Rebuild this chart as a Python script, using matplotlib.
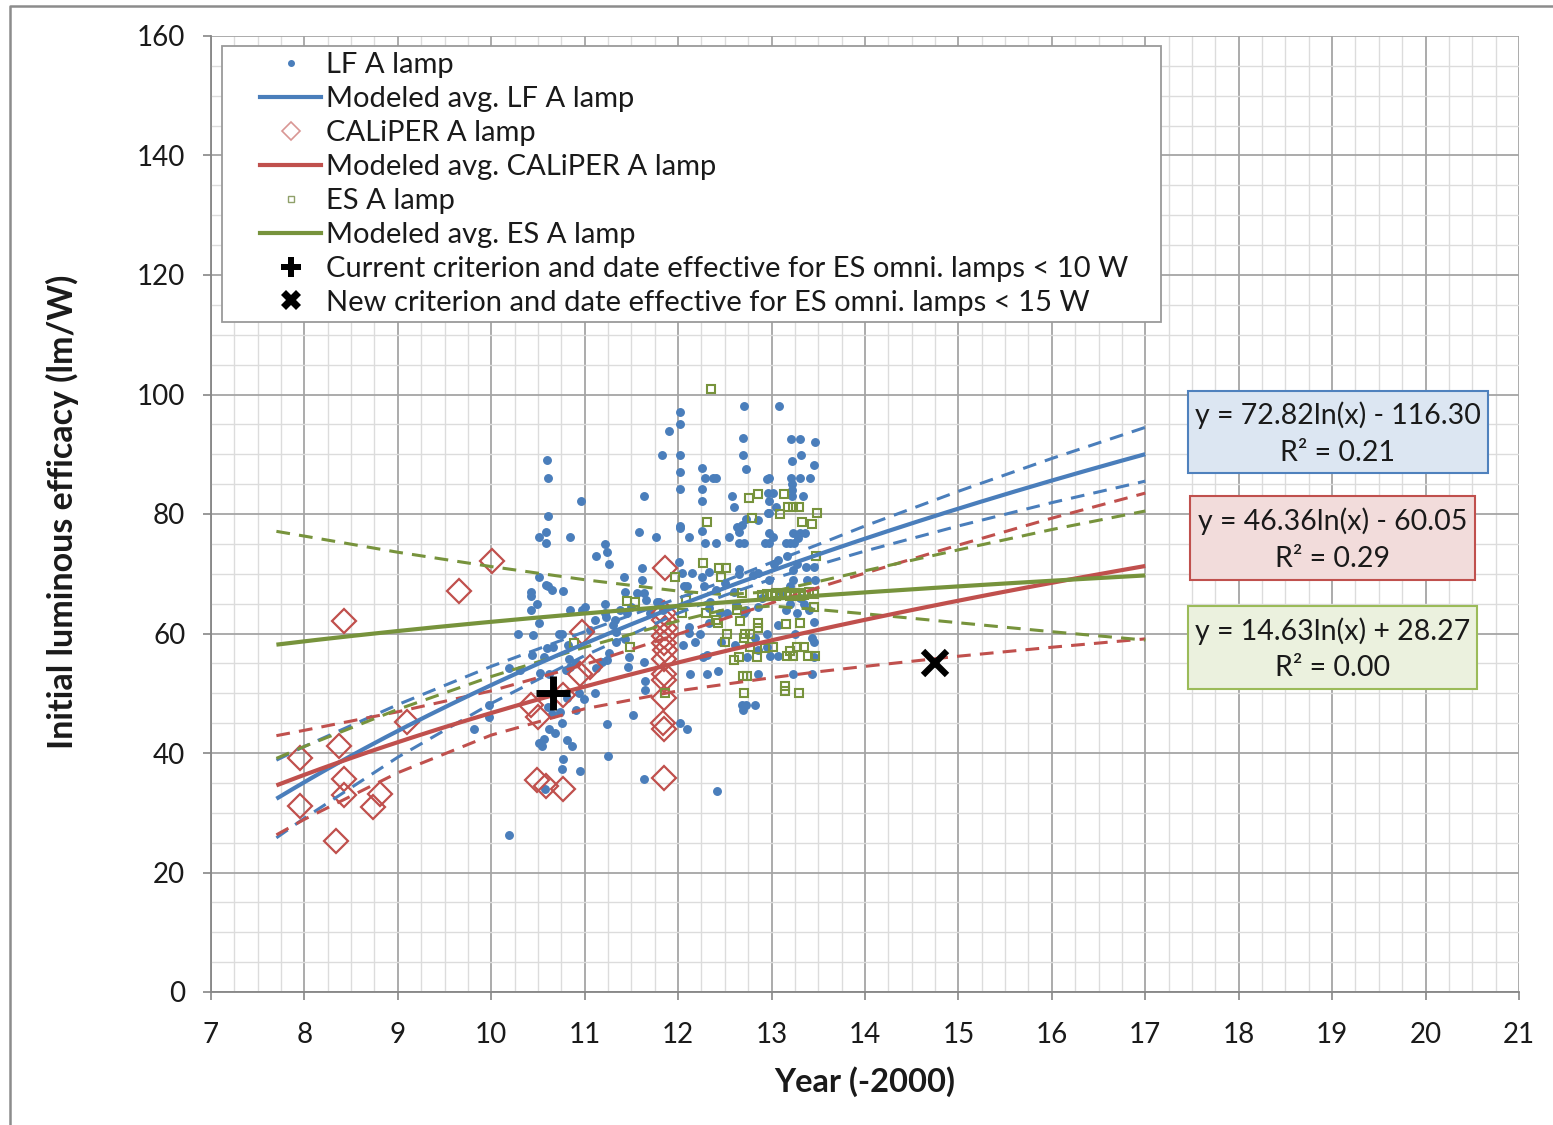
import matplotlib
matplotlib.use("Agg")
import matplotlib.pyplot as plt
import numpy as np
from matplotlib.lines import Line2D
from matplotlib.patches import Rectangle
from matplotlib.ticker import MultipleLocator
from matplotlib.legend_handler import HandlerLine2D

plt.rcParams['font.family'] = ['Lato', 'DejaVu Sans']

# ---------------- data ----------------
# LF A lamp (year - 2000, lm/W)
lf_x = [9.81, 9.98, 9.98, 10.19, 10.19, 10.29, 10.31, 10.43, 10.43, 10.43, 10.45, 10.44, 10.49,
        10.51, 10.51, 10.51, 10.51, 10.54, 10.56, 10.56, 10.52, 10.57, 10.59, 10.59, 10.60, 10.61,
        10.61, 10.59, 10.65, 10.61, 10.60, 10.66, 10.61, 10.65, 10.62, 10.68, 10.62, 10.72, 10.76,
        10.74, 10.76, 10.77, 10.76, 10.77, 10.80, 10.84, 10.81, 10.81, 10.82, 10.83, 10.84, 10.84,
        10.86, 10.91, 10.91, 10.94, 10.95, 10.96, 10.97, 10.99, 11.00, 11.06, 11.11, 11.11, 11.12,
        11.12, 11.18, 11.22, 11.22, 11.22, 11.24, 11.26, 11.24, 11.26, 11.24, 11.25, 11.23, 11.30,
        11.32, 11.33, 11.34, 11.38, 11.42, 11.43, 11.43, 11.45, 11.46, 11.47, 11.50, 11.52, 11.56,
        11.58, 11.61, 11.61, 11.63, 11.63, 11.63, 11.63, 11.65, 11.65, 11.66, 11.70, 11.76, 11.77,
        11.80, 11.83, 11.84, 11.90, 12.01, 12.02, 12.02, 12.02, 12.02, 12.02, 12.02, 12.02, 12.02,
        12.04, 12.06, 12.05, 12.10, 12.10, 12.12, 12.12, 12.12, 12.13, 12.15, 12.18, 12.23, 12.26,
        12.26, 12.26, 12.26, 12.26, 12.27, 12.28, 12.29, 12.29, 12.31, 12.31, 12.33, 12.33, 12.33,
        12.34, 12.37, 12.40, 12.40, 12.40, 12.42, 12.43, 12.45, 12.46, 12.50, 12.52, 12.54, 12.58,
        12.60, 12.60, 12.61, 12.62, 12.63, 12.65, 12.65, 12.65, 12.65, 12.68, 12.68, 12.69, 12.69,
        12.69, 12.70, 12.71, 12.71, 12.73, 12.73, 12.73, 12.73, 12.74, 12.80, 12.82, 12.82, 12.85,
        12.85, 12.85, 12.86, 12.86, 12.90, 12.93, 12.95, 12.95, 12.95, 12.96, 12.96, 12.97, 12.97,
        12.97, 12.97, 12.97, 12.97, 12.98, 13.01, 13.02, 13.03, 13.05, 13.07, 13.07, 13.07, 13.08,
        13.10, 13.15, 13.15, 13.16, 13.20, 13.20, 13.20, 13.21, 13.21, 13.22, 13.22, 13.22, 13.22,
        13.23, 13.23, 13.23, 13.23, 13.24, 13.25, 13.27, 13.27, 13.28, 13.30, 13.30, 13.30, 13.30,
        13.32, 13.34, 13.35, 13.36, 13.37, 13.38, 13.40, 13.41, 13.43, 13.43, 13.45, 13.45, 13.45,
        13.45, 13.45, 13.46, 13.47]
lf_y = [44.0, 46.1, 48.0, 26.3, 54.2, 60.0, 53.9, 66.9, 66.2, 64.0, 59.7, 56.4, 64.9,
        61.8, 76.2, 69.5, 41.7, 41.1, 42.3, 56.0, 53.4, 33.9, 77.0, 75.1, 89.0, 86.1,
        79.6, 68.1, 67.2, 67.9, 57.5, 57.8, 47.7, 46.6, 44.1, 43.3, 53.2, 59.9, 59.9,
        46.9, 45.0, 39.0, 37.3, 67.1, 53.9, 54.4, 49.2, 42.2, 58.0, 55.7, 64.0, 76.2,
        41.2, 55.1, 47.2, 50.0, 37.0, 82.1, 63.9, 49.1, 64.4, 60.6, 62.3, 50.0, 73.0,
        54.2, 55.3, 64.9, 63.4, 75.0, 73.7, 71.6, 55.5, 56.7, 44.8, 39.5, 62.8, 61.4,
        62.3, 58.6, 60.3, 64.0, 69.5, 66.9, 59.0, 63.4, 54.4, 56.1, 64.5, 46.4, 66.8,
        77.0, 71.0, 69.0, 83.0, 66.7, 55.3, 35.6, 52.1, 50.5, 65.6, 63.4, 76.1, 65.3,
        65.2, 89.9, 63.9, 93.9, 72.0, 97.1, 95.1, 89.9, 87.0, 84.2, 78.0, 77.6, 45.1,
        70.1, 68.0, 58.1, 67.9, 44.1, 76.2, 61.1, 60.1, 53.2, 70.1, 58.6, 59.9, 87.7,
        84.2, 82.1, 77.2, 69.5, 56.1, 67.9, 86.1, 75.1, 56.4, 53.2, 70.3, 64.3, 61.7,
        65.3, 86.1, 86.1, 75.1, 67.3, 33.6, 53.8, 63.4, 58.6, 68.5, 63.4, 76.1, 83.0,
        81.2, 67.0, 58.1, 64.9, 77.9, 77.0, 75.1, 70.8, 70.0, 78.1, 48.0, 47.2, 92.8,
        89.9, 98.0, 75.1, 63.4, 87.6, 79.1, 63.9, 48.1, 56.0, 69.8, 59.2, 48.0, 57.2,
        53.2, 64.5, 79.0, 70.2, 66.0, 75.1, 60.0, 57.8, 85.9, 83.5, 80.2, 86.1, 82.1,
        80.1, 76.9, 75.1, 69.0, 56.2, 83.5, 76.2, 71.7, 81.1, 72.3, 61.4, 56.2, 98.0,
        67.0, 75.1, 64.0, 72.9, 75.1, 65.0, 68.0, 92.5, 86.1, 88.9, 85.0, 84.1, 83.0,
        76.9, 70.6, 69.0, 53.3, 75.1, 60.0, 71.7, 63.4, 76.0, 92.5, 86.1, 76.9, 66.0,
        89.9, 83.0, 65.0, 76.9, 71.2, 69.0, 64.0, 86.1, 59.2, 53.2, 88.2, 71.2, 58.6,
        56.1, 62.0, 69.0, 92.0]

# CALiPER A lamp
cal_x = [7.95, 7.95, 8.34, 8.37, 8.42, 8.42, 8.42, 8.73, 8.81, 9.10, 9.65, 10.01,
         10.43, 10.50, 10.49, 10.59, 10.77, 10.77, 10.95, 10.97, 11.06, 11.86, 11.85,
         11.85, 11.86, 11.85, 11.85, 11.86, 11.85, 11.85, 11.85, 11.85, 11.84, 11.85, 11.85]
cal_y = [39.1, 31.2, 25.2, 41.2, 62.1, 35.6, 33.0, 31.0, 33.2, 45.2, 67.1, 72.2,
         48.0, 46.1, 35.5, 34.4, 34.0, 49.7, 53.3, 60.2, 54.4, 71.0, 63.4,
         62.3, 60.9, 59.5, 58.4, 57.2, 55.8, 53.3, 52.2, 49.2, 45.0, 44.1, 35.8]

# ENERGY STAR A lamp
es_x = [12.35, 12.76, 12.85, 13.13, 13.09, 13.18, 13.23, 13.29, 12.79, 12.31, 13.33, 13.43,
        13.49, 12.27, 12.44, 12.51, 12.46, 11.97, 13.48, 10.88, 11.48, 11.45, 11.54, 11.86,
        12.08, 12.04, 12.68, 12.90, 12.95, 13.00, 13.05, 13.10, 13.15, 13.20, 13.25, 13.30,
        13.35, 13.40, 13.45, 13.05, 13.20, 13.30, 12.43, 12.66, 12.86, 12.86, 13.15, 13.30,
        13.45, 12.72, 12.77, 12.71, 12.50, 12.77, 12.93, 13.01, 13.27, 13.35, 13.20, 12.60,
        12.65, 12.84, 13.16, 13.23, 13.39, 13.46, 12.69, 12.74, 12.70, 13.14, 13.14, 13.29,
        12.30, 12.41, 12.52, 12.63]
es_y = [100.9, 82.7, 83.4, 83.3, 80.0, 81.1, 81.1, 81.1, 79.3, 78.6, 78.6, 78.4,
        80.1, 71.8, 71.0, 71.0, 69.4, 69.4, 72.9, 58.4, 57.8, 65.4, 65.3, 50.1,
        65.6, 63.4, 66.7, 66.4, 66.6, 66.5, 66.7, 66.4, 66.6, 66.8, 66.5, 66.7,
        66.5, 66.9, 66.6, 66.2, 66.3, 66.2, 61.7, 62.1, 61.8, 60.9, 61.6, 61.8,
        64.4, 59.9, 59.9, 59.2, 58.6, 57.8, 57.5, 57.8, 57.8, 57.8, 57.0, 55.5,
        56.1, 56.1, 56.2, 56.2, 56.2, 56.2, 52.9, 52.9, 50.0, 51.2, 50.3, 50.0,
        63.4, 62.3, 60.0, 63.9]

# Logarithmic trend coefficients: y = a*ln(x) + b, with R^2
lf_fit = (72.82, -116.30, 0.21)
cal_fit = (46.36, -60.05, 0.29)
es_fit = (14.63, 28.27, 0.00)
fit_range = (7.7, 17.0)

# Confidence bands of the trends
band_x = [7.7, 8, 9, 10, 11, 12, 12.5, 13, 13.5, 14, 15, 16, 17]
lf_upper = [38.8, 41.1, 48.1, 54.5, 60.3, 65.9, 68.8, 71.9, 74.9, 78.0, 83.8, 89.3, 94.5]
lf_lower = [25.8, 29.1, 39.3, 48.3, 56.3, 63.4, 66.4, 69.1, 71.5, 73.8, 78.0, 81.9, 85.5]
cal_upper = [42.9, 43.8, 46.9, 50.4, 54.8, 59.9, 62.5, 65.1, 67.7, 70.1, 74.8, 79.3, 83.5]
cal_lower = [26.3, 28.9, 36.7, 43.0, 47.4, 50.4, 51.5, 52.6, 53.6, 54.5, 56.2, 57.7, 59.1]
es_upper = [77.1, 76.3, 73.6, 71.2, 69.0, 67.1, 66.5, 67.0, 68.7, 70.5, 74.0, 77.4, 80.5]
es_lower = [39.1, 41.1, 47.3, 52.8, 57.7, 62.1, 64.0, 64.6, 64.0, 63.3, 61.8, 60.3, 58.9]

# ENERGY STAR criteria points
current_crit = (10.66, 50.0)
new_crit = (14.75, 55.1)

# ---------------- style ----------------
BLUE = '#4A7EBB'
RED = '#C0504D'
GREEN = '#77933C'
GRID_MAJ = '#A5A5A5'
GRID_MIN = '#DCDCDC'
TXT = '#1a1a1a'

W, H = 1553, 1125
fig = plt.figure(figsize=(W / 100, H / 100), dpi=100)
ax = fig.add_axes([211 / W, (H - 992) / H, 1308 / W, 956 / H])

ax.set_xlim(7, 21)
ax.set_ylim(0, 160)
ax.xaxis.set_major_locator(MultipleLocator(1))
ax.xaxis.set_minor_locator(MultipleLocator(0.25))
ax.yaxis.set_major_locator(MultipleLocator(20))
ax.yaxis.set_minor_locator(MultipleLocator(5))
ax.grid(which='minor', color=GRID_MIN, lw=1.0, zorder=0)
ax.grid(which='major', color=GRID_MAJ, lw=1.3, zorder=0)
ax.set_axisbelow(True)
for s in ('top', 'right'):
    ax.spines[s].set_visible(False)
for s in ('left', 'bottom'):
    ax.spines[s].set_color('#868686')
    ax.spines[s].set_linewidth(1.3)
ax.tick_params(which='major', direction='out', length=6, width=1.2, color='#868686',
               labelsize=20, labelcolor=TXT)
ax.tick_params(axis='x', which='major', pad=15.5)
ax.tick_params(axis='y', which='major', pad=12.5)
ax.tick_params(which='minor', length=0)

# scatter series
ax.plot(lf_x, lf_y, 'o', ms=5.4, color=BLUE, mec=BLUE, zorder=3)
ax.plot(cal_x, cal_y, 'D', ms=12, mfc='none', mec=RED, mew=1.6, zorder=4)
ax.plot(es_x, es_y, 's', ms=6.2, mfc='none', mec=GREEN, mew=1.5, zorder=5)

# confidence bands
dash = (0, (4.5, 3))
for up, lo, c in ((lf_upper, lf_lower, BLUE), (cal_upper, cal_lower, RED),
                  (es_upper, es_lower, GREEN)):
    ax.plot(band_x, up, ls=dash, color=c, lw=2.2, zorder=6)
    ax.plot(band_x, lo, ls=dash, color=c, lw=2.2, zorder=6)

# trend lines
xf = np.linspace(fit_range[0], fit_range[1], 200)
for (a, b, _), c in ((lf_fit, BLUE), (cal_fit, RED), (es_fit, GREEN)):
    ax.plot(xf, a * np.log(xf) + b, color=c, lw=3.0, zorder=7, solid_capstyle='butt')

# criteria markers
ax.plot(*current_crit, marker='+', ms=24, mew=5, color='black', zorder=9)
ax.plot(*new_crit, marker='x', ms=17, mew=4.5, color='black', zorder=9)

# equation boxes
def eq_text(fit):
    a, b, r2 = fit
    sign = '-' if b < 0 else '+'
    return f"y = {a:.2f}ln(x) {sign} {abs(b):.2f}\nR\u00b2 = {r2:.2f}"

boxes = [
    (lf_fit, (17.457, 86.9), 3.211, 13.7, '#DCE6F2', '#4F81BD'),
    (cal_fit, (17.478, 68.95), 3.051, 14.05, '#F2DCDB', '#C0504D'),
    (es_fit, (17.457, 50.7), 3.093, 13.9, '#EBF1DE', '#9BBB59'),
]
for fit, (x0, y0), w, h, fc, ec in boxes:
    ax.add_patch(Rectangle((x0, y0), w, h, facecolor=fc, edgecolor=ec, lw=1.5, zorder=10))
    ax.text(x0 + w / 2, y0 + h / 2 - 0.3, eq_text(fit), ha='center', va='center', fontsize=20.5,
            color=TXT, linespacing=1.5, zorder=11)


# legend handles drawn in the right part of the handle box
class ShiftedHandler(HandlerLine2D):
    def __init__(self, frac=0.34, **kw):
        super().__init__(**kw)
        self.frac = frac

    def create_artists(self, legend, orig_handle, xdescent, ydescent, width, height,
                       fontsize, trans):
        shift = self.frac * width
        return super().create_artists(legend, orig_handle, xdescent - shift, ydescent,
                                      width - shift, height, fontsize, trans)


handles = [
    Line2D([], [], ls='none', marker='o', ms=4, color=BLUE),
    Line2D([], [], color=BLUE, lw=3),
    Line2D([], [], ls='none', marker='D', ms=9, mfc='none', mec='#D99694', mew=1.2),
    Line2D([], [], color=RED, lw=3),
    Line2D([], [], ls='none', marker='s', ms=5, mfc='none', mec='#8FA06A', mew=1.0),
    Line2D([], [], color=GREEN, lw=3),
    Line2D([], [], ls='none', marker='P', ms=14, color='black', mew=0),
    Line2D([], [], ls='none', marker='X', ms=14, color='black', mew=0),
]
labels = ['LF A lamp', 'Modeled avg. LF A lamp', 'CALiPER A lamp', 'Modeled avg. CALiPER A lamp',
          'ES A lamp', 'Modeled avg. ES A lamp',
          'Current criterion and date effective for ES omni. lamps < 10 W',
          'New criterion and date effective for ES omni. lamps < 15 W']
x0l = (222 - 211) / 1308
y1l = (992 - 46) / 956
wl = (1161 - 222) / 1308
leg = ax.legend(handles, labels, loc='upper left', bbox_to_anchor=(x0l, y1l - 0.285, wl, 0.285),
                mode='expand', borderaxespad=0, fontsize=21, handlelength=3.2, handletextpad=0.17,
                labelspacing=0.272, borderpad=0.21, fancybox=False, framealpha=1,
                edgecolor='#9A9A9A',
                handler_map={Line2D: ShiftedHandler(0.34)})
leg.get_frame().set_linewidth(1.3)
leg.set_zorder(12)
for t in leg.get_texts():
    t.set_color(TXT)

# axis titles
fig.text(62 / W, 1 - 512 / H, 'Initial luminous efficacy (lm/W)', rotation=90, ha='center',
         va='center', fontsize=24.5, fontweight='bold', color=TXT)
fig.text(865 / W, 1 - 1082 / H, 'Year (-2000)', ha='center', va='center', fontsize=23.5,
         fontweight='bold', color=TXT)

# chart area border
fig.add_artist(Line2D([10 / W, 10 / W, 1.0], [0.0, 1 - 6 / H, 1 - 6 / H],
                      transform=fig.transFigure, color='#8C8C8C', lw=1.8))

fig.savefig('out.png', dpi=100)
